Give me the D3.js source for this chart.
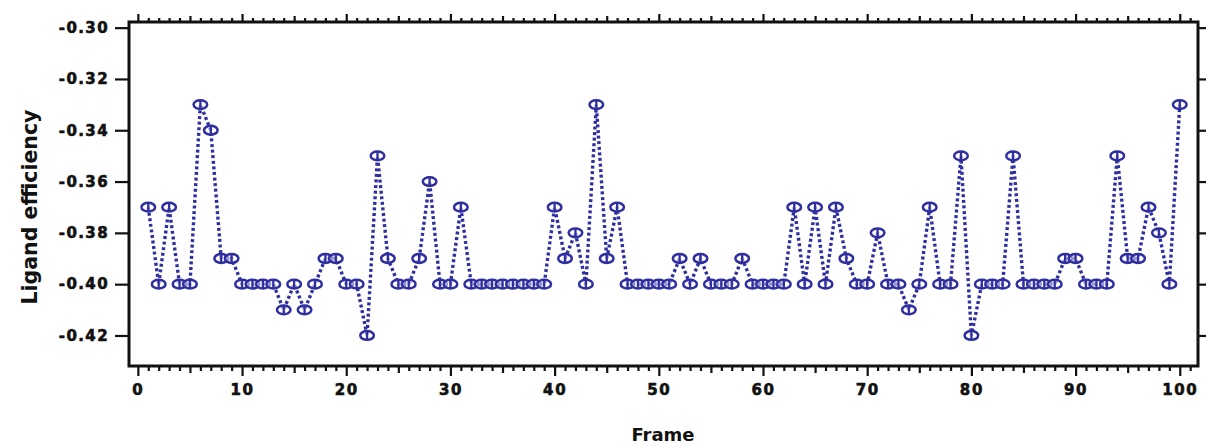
<!DOCTYPE html>
<html><head><meta charset="utf-8">
<script src="https://cdn.jsdelivr.net/npm/d3@7"></script>
<style>
html,body{margin:0;padding:0;background:#fff;}
svg text{font-family:"DejaVu Sans",sans-serif;font-weight:bold;fill:#111;}
</style></head>
<body><svg id="c" width="1206" height="447"></svg>
<script>
const frames = d3.range(1, 101);
const efficiency = [
 -0.37,-0.40,-0.37,-0.40,-0.40,-0.33,-0.34,-0.39,-0.39,-0.40,
 -0.40,-0.40,-0.40,-0.41,-0.40,-0.41,-0.40,-0.39,-0.39,-0.40,
 -0.40,-0.42,-0.35,-0.39,-0.40,-0.40,-0.39,-0.36,-0.40,-0.40,
 -0.37,-0.40,-0.40,-0.40,-0.40,-0.40,-0.40,-0.40,-0.40,-0.37,
 -0.39,-0.38,-0.40,-0.33,-0.39,-0.37,-0.40,-0.40,-0.40,-0.40,
 -0.40,-0.39,-0.40,-0.39,-0.40,-0.40,-0.40,-0.39,-0.40,-0.40,
 -0.40,-0.40,-0.37,-0.40,-0.37,-0.40,-0.37,-0.39,-0.40,-0.40,
 -0.38,-0.40,-0.40,-0.41,-0.40,-0.37,-0.40,-0.40,-0.35,-0.42,
 -0.40,-0.40,-0.40,-0.35,-0.40,-0.40,-0.40,-0.40,-0.39,-0.39,
 -0.40,-0.40,-0.40,-0.35,-0.39,-0.39,-0.37,-0.38,-0.40,-0.33
];
const xMajorTicks = [0,10,20,30,40,50,60,70,80,90,100];
const yTicks = [-0.42,-0.40,-0.38,-0.36,-0.34,-0.32,-0.30];
const xLabel = "Frame";
const yLabel = "Ligand efficiency";

const svg = d3.select("#c");
const L = 129, R = 1198, T = 22, B = 366;
const x = d3.scaleLinear().domain([-0.85, 101.75]).range([L, R]);
const y = d3.scaleLinear().domain([-0.4319, -0.2978]).range([B, T]);
const col = "#2f2fa0";

const data = frames.map((f, i) => ({f, v: efficiency[i]}));

// line
svg.append("path").datum(data)
  .attr("fill","none").attr("stroke",col).attr("stroke-width",3.4)
  .attr("stroke-dasharray","3,2.6")
  .attr("d", d3.line().x(d=>x(d.f)).y(d=>y(d.v)));

// markers
const m = svg.append("g").selectAll("g").data(data).join("g")
  .attr("transform", d=>`translate(${x(d.f)},${y(d.v)})`);
m.append("ellipse").attr("rx",6.8).attr("ry",4.4)
  .attr("fill","#fff").attr("fill-opacity",0.5).attr("stroke",col).attr("stroke-width",2.5);
m.append("line").attr("y1",-4.8).attr("y2",4.8).attr("stroke",col).attr("stroke-width",2.3);

// axes
const minor = d3.range(0, 102).filter(v => v % 5 !== 0);
const mid = d3.range(5, 102, 10);
function styleAxis(g){ g.select(".domain").remove(); g.selectAll(".tick line").attr("stroke","#111").attr("stroke-width",2.2); }

svg.append("g").attr("transform",`translate(0,${B})`)
  .call(d3.axisBottom(x).tickValues(minor).tickSize(5).tickFormat("")).call(styleAxis);
svg.append("g").attr("transform",`translate(0,${B})`)
  .call(d3.axisBottom(x).tickValues(mid).tickSize(7).tickFormat("")).call(styleAxis);
const xb = svg.append("g").attr("transform",`translate(0,${B})`)
  .call(d3.axisBottom(x).tickValues(xMajorTicks).tickSize(10).tickPadding(8).tickFormat(d3.format("d"))).call(styleAxis);
xb.selectAll("text").attr("font-size",15).attr("letter-spacing","1.6px")
  .attr("fill","#111").attr("stroke","#111").attr("stroke-width",0.6);

svg.append("g").attr("transform",`translate(0,${T})`)
  .call(d3.axisTop(x).tickValues(minor).tickSize(4).tickFormat("")).call(styleAxis);
svg.append("g").attr("transform",`translate(0,${T})`)
  .call(d3.axisTop(x).tickValues(mid).tickSize(6).tickFormat("")).call(styleAxis);
svg.append("g").attr("transform",`translate(0,${T})`)
  .call(d3.axisTop(x).tickValues(xMajorTicks).tickSize(8).tickFormat("")).call(styleAxis);

const yl = svg.append("g").attr("transform",`translate(${L},0)`)
  .call(d3.axisLeft(y).tickValues(yTicks).tickSize(14).tickPadding(6).tickFormat(d3.format(".2f"))).call(styleAxis);
yl.selectAll("text").attr("font-size",15).attr("letter-spacing","1.4px")
  .attr("fill","#111").attr("stroke","#111").attr("stroke-width",0.6);
yl.selectAll("text").text(d => d3.format(".2f")(d).replace("−","-"));

svg.append("g").attr("transform",`translate(${R},0)`)
  .call(d3.axisRight(y).tickValues(yTicks).tickSize(10).tickFormat("")).call(styleAxis);

svg.append("rect").attr("x",L).attr("y",T).attr("width",R-L).attr("height",B-T)
  .attr("fill","none").attr("stroke","#111").attr("stroke-width",3);

svg.append("text").attr("x",663).attr("y",441).attr("text-anchor","middle")
  .attr("font-size",18).text(xLabel);
svg.append("text").attr("transform",`translate(37,207) rotate(-90)`).attr("text-anchor","middle")
  .attr("font-size",20.5).text(yLabel);
</script></body></html>
